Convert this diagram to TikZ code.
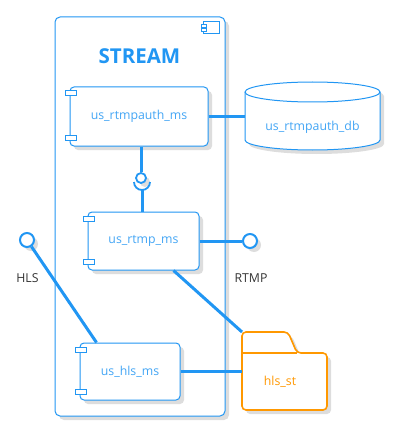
\documentclass[tikz,border=0pt]{standalone}
\usepackage{fontspec}
\setmainfont{Open Sans}
\usetikzlibrary{calc,positioning,shadows}
\definecolor{compline}{HTML}{2196F3}
\definecolor{comptext}{HTML}{42A5F5}
\definecolor{folderline}{HTML}{FF9800}
\definecolor{shadowgray}{HTML}{DDDDDD}
\definecolor{labeltext}{HTML}{333333}
\tikzset{
  shade box/.style={drop shadow={shadow xshift=4pt,shadow yshift=-4pt,fill=shadowgray,opacity=1}},
  comp/.style={draw=compline,line width=1pt,rounded corners=4pt,fill=white,shade box,
    text=comptext,font=\fontsize{12.3}{14}\selectfont,inner sep=0pt},
  port/.style={draw=compline,line width=1pt,fill=white,minimum width=11pt,minimum height=5pt,inner sep=0pt},
  link/.style={draw=compline,line width=3pt},
  iface/.style={circle,draw=compline,line width=2pt,fill=white,minimum size=14pt,inner sep=0pt,shade box},
  ifacelabel/.style={text=labeltext,font=\fontsize{12.3}{14}\selectfont}
}

\begin{document}
\begin{tikzpicture}[x=1pt,y=-1pt]
\useasboundingbox (0,0) rectangle (401,433);
% container
\node[draw=compline,line width=1pt,rounded corners=5pt,fill=white,shade box,
  minimum width=170pt,minimum height=399pt,inner sep=0pt] (stream) at (140,216.5) {};
\node[text=compline,font=\bfseries\fontsize{20.5}{24}\selectfont] (title) at (139.5,56) {STREAM};
\draw[compline,line width=1pt,fill=white] (203.5,22) rectangle (219,34);
\draw[compline,line width=1pt,fill=white] (201,25) rectangle (206,28);
\draw[compline,line width=1pt,fill=white] (201,29) rectangle (206,32);

% components
\node[comp,minimum width=138pt,minimum height=59pt] (auth) at (139,116.5) {us\_rtmpauth\_ms};
\node[comp,minimum width=111pt,minimum height=58pt] (rtmp) at (143.5,241) {us\_rtmp\_ms};
\node[comp,minimum width=100pt,minimum height=57pt] (hls) at (130,371.5) {us\_hls\_ms};
\foreach \c in {auth,rtmp,hls}{
  \node[port] at ($(\c.north west)+(1,7)$) {};
  \node[port] at ($(\c.south west)+(1,-9)$) {};
}

% database
\node[minimum width=135pt,minimum height=68pt,inner sep=0pt] (db) at (312.5,116.5) {};
\draw[compline,line width=1pt,fill=white,shade box] (245,92) -- (245,140)
  arc[start angle=180,end angle=360,x radius=67.5pt,y radius=10pt] -- (380,92)
  arc[start angle=0,end angle=180,x radius=67.5pt,y radius=10pt] -- cycle;
\draw[compline,line width=1pt] (245,92) arc[start angle=180,end angle=360,x radius=67.5pt,y radius=10pt];
\node[text=comptext,font=\fontsize{12.3}{14}\selectfont] (dblabel) at (312.5,127) {us\_rtmpauth\_db};

% storage folder
\node[minimum width=85pt,minimum height=57pt,inner sep=0pt] (hlsst) at (284.5,381.5) {};
\draw[folderline,line width=1.6pt,fill=white,shade box,rounded corners=4pt]
  (242,410) -- (242,332) -- (288,332) -- (297,353) -- (327,353) -- (327,410) -- cycle;
\draw[folderline,line width=1.6pt] (242,353) -- (297,353);
\node[text=folderline,font=\fontsize{12.3}{14}\selectfont] (stlabel) at (280,381.5) {hls\_st};

% interfaces
\node[iface] (rtmpif) at (250,241) {};
\node[iface] (hlsif) at (27,240) {};
\node[ifacelabel] (rtmplbl) at (251,278) {RTMP};
\node[ifacelabel] (hlslbl) at (27.5,278) {HLS};
\node[iface,minimum size=10pt,line width=1.8pt] (authif) at (141,178) {};
\coordinate (sock) at (142,182);

% connectors
\draw[link] (auth.east) -- (db.west);
\draw[link] (authif |- auth.south) -- (authif.north);
\draw[compline,line width=1.8pt] ($(sock)+(-8,0)$) arc[start angle=180,end angle=360,radius=8pt];
\draw[link] ($(sock)+(0,8)$) -- (sock |- rtmp.north);
\draw[link] (rtmp.east) -- (rtmpif);
\draw[link] (hlsif) -- ([xshift=17pt]hls.north west);
\draw[link] ([xshift=30pt]rtmp.south) -- (242,332);
\draw[link] (hls.east) -- (hls.east -| hlsst.west);
\end{tikzpicture}
\end{document}
